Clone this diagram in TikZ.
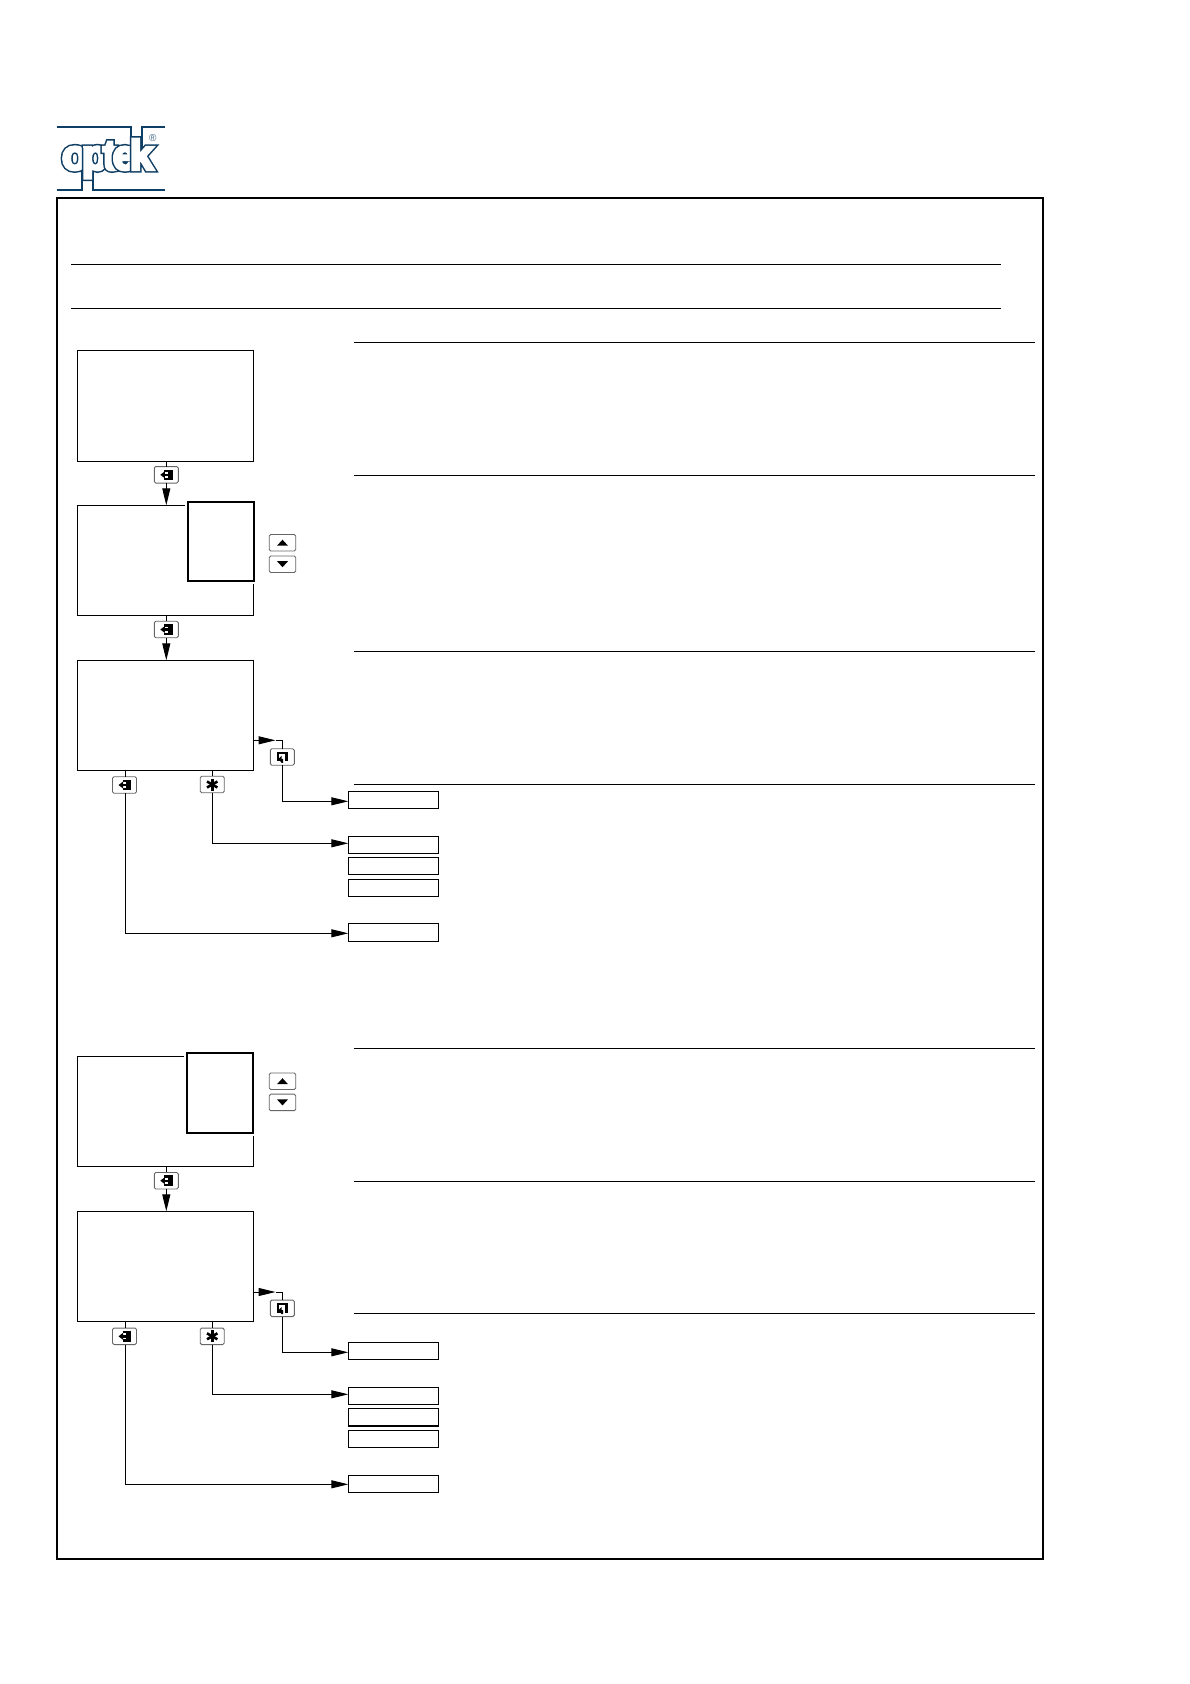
\documentclass[tikz,border=0pt]{standalone}
\usepackage{fontspec}
\usetikzlibrary{arrows.meta}
\setmainfont{Liberation Sans}
\newfontfamily\logofont[BoldFont={Liberation Sans Bold}]{Liberation Sans}
\definecolor{logoblue}{RGB}{15,62,100}
\tikzset{
  line width=1pt,
  every node/.style={inner sep=0pt,outer sep=0pt},
  framebox/.style={draw=black,line width=1pt,fill=white,anchor=north west},
  thickbox/.style={draw=black,line width=2pt,fill=white,anchor=north west,preaction={draw=white,line width=6pt}},
  keybtn/.style={draw=black!60,line width=0.9pt,fill=white,rounded corners=1.5pt,minimum width=24pt,minimum height=16.5pt},
  updown/.style={keybtn,minimum width=26.5pt},
  conn/.style={draw=black,line width=1pt},
  arr/.style={conn,-{Triangle[length=17pt,width=8pt]}},
  rulel/.style={draw=black,line width=1pt},
  logobar/.style={draw=logoblue,line width=2.3pt},
}
% \bx{name}{x1}{y1}{x2}{y2}
\newcommand{\bx}[6][framebox]{\node[#1,minimum width={#5-#3},minimum height={#6-#4}] (#2) at (#3,#4) {};}
% outlined heavy logo letter
\newcommand{\logoch}[1]{\rlap{\special{pdf:code q 2 Tr 6 w 0.059 0.243 0.392 RG 0.059 0.243 0.392 rg}#1\special{pdf:code Q}}\rlap{\special{pdf:code q 2 Tr 3 w 1 1 1 RG 1 1 1 rg}#1\special{pdf:code Q}}\hphantom{#1}}
\newcommand{\iconenter}[1]{\begin{scope}[shift={(#1.center)}]
  \fill[black] (-2,-5.3) rectangle (6.5,5.3);
  \fill[white] (-2,-3) rectangle (1.5,3);
  \fill[black] (-1.5,-1.2) rectangle (2,1.2);
  \fill[black] (-6,0) -- (-1.5,-3.4) -- (-1.5,3.4) -- cycle;
\end{scope}}
\newcommand{\iconreturn}[1]{\begin{scope}[shift={(#1.center)}]
  \fill[black] (-5.8,-5.5) rectangle (5.8,4.2);
  \fill[white] (-3,-3) rectangle (3,1.5);
  \fill[white] (-1.8,1) rectangle (2.2,5);
  \fill[black] (-3.8,1.8) -- (-0.6,-1.4) -- (-0.6,1.8) -- (0.8,1.8) -- (0.8,5.8) -- (-0.6,5.8) -- (-2,4.5) -- (-2,1.8) -- cycle;
\end{scope}}
\newcommand{\iconstar}[1]{\begin{scope}[shift={(#1.center)},line width=2.6pt,black]
  \draw (0,-6) -- (0,6);
  \draw (-5.2,-3) -- (5.2,3);
  \draw (-5.2,3) -- (5.2,-3);
\end{scope}}
\newcommand{\iconup}[1]{\fill[black] ([shift={(-5.5,3)}]#1.center) -- ([shift={(5.5,3)}]#1.center) -- ([shift={(0,-3)}]#1.center) -- cycle;}
\newcommand{\icondown}[1]{\fill[black] ([shift={(-5.5,-3)}]#1.center) -- ([shift={(5.5,-3)}]#1.center) -- ([shift={(0,3)}]#1.center) -- cycle;}
\begin{document}
\begin{tikzpicture}[x=1pt,y=-1pt]
\useasboundingbox (0,0) rectangle (1190,1684);
\fill[white] (0,0) rectangle (1190,1684);

% logo
\draw[logobar] (56.7,127.3) -- (130.7,127.3) -- (130.7,148);
\draw[logobar] (165,127.3) -- (141.7,127.3) -- (141.7,148);
\draw[logobar,line width=1.8pt] (56.7,189.6) -- (82.3,189.6) -- (82.3,168);
\draw[logobar,line width=1.8pt] (165,189.6) -- (93.3,189.6) -- (93.3,168);
\node[anchor=base west] (logotext) at (62,169.5) {\logofont\fontsize{42pt}{42pt}\selectfont\bfseries\logoch{o}\kern-5.7pt\logoch{p}\kern-4.7pt\logoch{t}\kern-4pt\logoch{e}\kern-6.4pt\logoch{k}};
\node[text=logoblue!80,font=\fontsize{10pt}{10pt}\selectfont] (regmark) at (152.7,138) {®};

% outer frame
\node[draw=black,line width=2.2pt,anchor=north west,minimum width=986.2pt,minimum height=1361pt] (outer) at (57,198) {};

% header rules
\coordinate (h1a) at (71,264.3); \coordinate (h1b) at (1000.7,264.3);
\coordinate (h2a) at (71,308.3); \coordinate (h2b) at (1000.7,308.3);
\draw[rulel] (h1a) -- (h1b);
\draw[rulel] (h2a) -- (h2b);
\foreach \yy in {342.5,475,651,784,1048,1181.5,1313.5}{
  \draw[rulel] (354,\yy) -- (1034.7,\yy);
}

% section one
\bx{ba}{77.5}{350.3}{253.5}{461.3}
\bx{bb}{77.5}{505.3}{253.5}{615.3}
\bx[thickbox]{bbt}{187.7}{501.7}{254}{581}
\bx{bc}{77.5}{660.3}{253.5}{770.7}
\node[keybtn] (k1) at (166.3,474.8) {};
\node[keybtn] (k2) at (166.3,629.5) {};
\node[updown] (up1) at (282.5,542.7) {};
\node[updown] (dn1) at (282.5,564.2) {};
\node[keybtn] (kr1) at (282.3,757) {};
\node[keybtn] (kl1) at (124.5,785) {};
\node[keybtn] (ks1) at (212.2,784.5) {};
\bx{o1}{348.3}{791.3}{438.7}{808.3}
\bx{o2}{348.3}{836.3}{438.7}{853.3}
\bx{o3}{348.3}{857.3}{438.7}{874.7}
\bx{o4}{348.3}{879.3}{438.7}{896.3}
\bx{o5}{348.3}{923.3}{438.7}{941.3}

\draw[conn] (k1.north |- ba.south) -- (k1.north);
\draw[arr] (k1.south) -- (k1.south |- bb.north);
\draw[conn] (k2.north |- bb.south) -- (k2.north);
\draw[arr] (k2.south) -- (k2.south |- bc.north);
\coordinate (sa) at (253.5,740.3);
\coordinate (sb) at (275.5,740.3);
\draw[arr] (sa) -- (sb);
\draw[conn] (sb) -| (kr1.north);
\draw[conn] (125.3,770.7) -- (125.3,776.7);
\draw[conn] (ks1.north |- bc.south) -- (ks1.north);
\coordinate (t1) at (348.3,801.3);
\coordinate (t2) at (348.3,843.3);
\coordinate (t5) at (348.3,933.3);
\draw[arr] (kr1.south) |- (t1);
\draw[arr] (ks1.south) |- (t2);
\draw[arr] (125.3,793.2) |- (t5);

% section two
\bx{bd}{77.5}{1056.3}{253.5}{1166.3}
\bx[thickbox]{bdt}{186.7}{1053}{252.9}{1133}
\bx{be}{77.5}{1211.3}{253.5}{1321.3}
\node[keybtn] (k3) at (166.3,1180.7) {};
\node[updown] (up2) at (282.5,1081.2) {};
\node[updown] (dn2) at (282.5,1102.4) {};
\node[keybtn] (kr2) at (282.3,1308.3) {};
\node[keybtn] (kl2) at (124.5,1336.3) {};
\node[keybtn] (ks2) at (212.2,1336.3) {};
\bx{p1}{348.3}{1342.3}{438.7}{1359.3}
\bx{p2}{348.3}{1387.3}{438.7}{1404.3}
\bx[framebox,line width=1.4pt]{p3}{348.3}{1408.3}{438.7}{1426}
\bx{p4}{348.3}{1430.3}{438.7}{1447.3}
\bx{p5}{348.3}{1475.3}{438.7}{1492.3}

\draw[conn] (k3.north |- bd.south) -- (k3.north);
\draw[arr] (k3.south) -- (k3.south |- be.north);
\coordinate (sc) at (253.5,1292);
\coordinate (sd) at (275.5,1292);
\draw[arr] (sc) -- (sd);
\draw[conn] (sd) -| (kr2.north);
\draw[conn] (125.3,1321.3) -- (125.3,1328);
\draw[conn] (ks2.north |- be.south) -- (ks2.north);
\coordinate (u1) at (348.3,1352.3);
\coordinate (u2) at (348.3,1394.3);
\coordinate (u5) at (348.3,1484.3);
\draw[arr] (kr2.south) |- (u1);
\draw[arr] (ks2.south) |- (u2);
\draw[arr] (125.3,1344.5) |- (u5);

% key icons
\iconenter{k1}\iconenter{k2}\iconenter{k3}\iconenter{kl1}\iconenter{kl2}
\iconreturn{kr1}\iconreturn{kr2}
\iconstar{ks1}\iconstar{ks2}
\iconup{up1}\iconup{up2}
\icondown{dn1}\icondown{dn2}
\end{tikzpicture}
\end{document}
